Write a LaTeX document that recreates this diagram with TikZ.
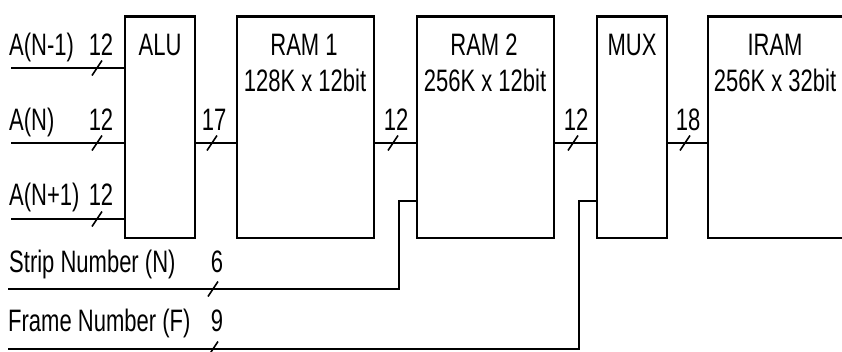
\documentclass[tikz,border=0pt]{standalone}
\usepackage{fontspec}
\setmainfont[FakeStretch=0.71]{Liberation Sans}
\tikzset{
  blk/.style={draw, line width=2.2pt, inner sep=0pt, outer sep=0pt, anchor=north west, minimum height=221.5pt},
  wire/.style={line width=2.2pt},
  tickmark/.style={line width=1.6pt},
  txt/.style={inner sep=0pt, font=\fontsize{31}{35}\selectfont},
}
\newcommand\busmark[2]{\draw[tickmark] (#1,#2) ++(-5,7.5) -- ++(10,-15);}
\begin{document}
\begin{tikzpicture}[x=1pt,y=-1pt]
\useasboundingbox (0,0) rectangle (842,351);
% blocks
\node[blk, minimum width=70pt]  (alu)  at (125,16.5) {};
\node[blk, minimum width=137pt] (ram1) at (237,16.5) {};
\node[blk, minimum width=137pt] (ram2) at (417,16.5) {};
\node[blk, minimum width=70pt]  (mux)  at (597,16.5) {};
\node[blk, minimum width=140pt] (iram) at (708,16.5) {};
% block texts
\node[txt, anchor=base] (alut)  at (160,55) {ALU};
\node[txt, anchor=base] (ram1a) at (304,55) {RAM 1};
\node[txt, anchor=base] (ram1b) at (305,91) {128K x 12bit};
\node[txt, anchor=base] (ram2a) at (484,55) {RAM 2};
\node[txt, anchor=base] (ram2b) at (485,91) {256K x 12bit};
\node[txt, anchor=base] (muxt)  at (632,55) {MUX};
\node[txt, anchor=base] (irama) at (775,55) {IRAM};
\node[txt, anchor=base] (iramb) at (775,91) {256K x 32bit};
% input labels
\node[txt, anchor=base west] (la1) at (9,55)  {A(N-1)};
\node[txt, anchor=base west] (la2) at (9,130) {A(N)};
\node[txt, anchor=base west] (la3) at (9,205) {A(N+1)};
\node[txt, anchor=base west] (lsn) at (9,272) {Strip Number (N)};
\node[txt, anchor=base west] (lfn) at (8,331) {Frame Number (F)};
% width labels
\node[txt, anchor=base] (w1) at (101,55)  {12};
\node[txt, anchor=base] (w2) at (101,130) {12};
\node[txt, anchor=base] (w3) at (101,205) {12};
\node[txt, anchor=base] (w4) at (214,130) {17};
\node[txt, anchor=base] (w5) at (396,130) {12};
\node[txt, anchor=base] (w6) at (576,130) {12};
\node[txt, anchor=base] (w7) at (688,130) {18};
\node[txt, anchor=base] (w8) at (217,272) {6};
\node[txt, anchor=base] (w9) at (217,331) {9};
% wires
\coordinate (in1) at (11,68);
\coordinate (in2) at (11,143);
\coordinate (in3) at (11,219);
\coordinate (bus) at (0,143);
\draw[wire] (in1) -- (in1 -| alu.west);
\draw[wire] (in2) -- (in2 -| alu.west);
\draw[wire] (in3) -- (in3 -| alu.west);
\draw[wire] (alu.east |- bus) -- (ram1.west |- bus);
\draw[wire] (ram1.east |- bus) -- (ram2.west |- bus);
\draw[wire] (ram2.east |- bus) -- (mux.west |- bus);
\draw[wire] (mux.east |- bus) -- (iram.west |- bus);
\coordinate (sn) at (8,289);
\coordinate (snup) at (399,201);
\draw[wire] (sn) -| (snup) -- (snup -| ram2.west);
\coordinate (fn) at (8,349);
\coordinate (fnup) at (579,201);
\draw[wire] (fn) -| (fnup) -- (fnup -| mux.west);
% bus marks
\busmark{97}{68}
\busmark{97}{143}
\busmark{97}{219}
\busmark{212}{143}
\busmark{393}{143}
\busmark{573}{143}
\busmark{685}{143}
\busmark{213}{289}
\busmark{213}{349}
\end{tikzpicture}
\end{document}
